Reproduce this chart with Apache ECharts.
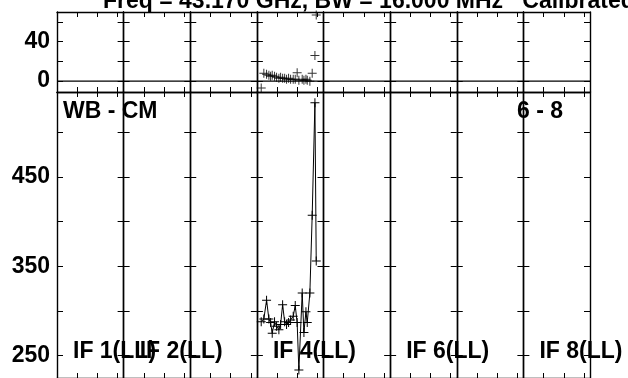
<!DOCTYPE html>
<html><head><meta charset="utf-8">
<script src="https://cdn.jsdelivr.net/npm/echarts@6/dist/echarts.min.js"></script>
<style>html,body{margin:0;padding:0;background:#fff}#c{width:628px;height:378px}</style>
</head><body><div id="c"></div>
<script>
// ---- data ----
const titleText = "Freq = 43.170 GHz, BW = 16.000 MHz   Calibrated with CL 1";
const panelText = "WB - CM";
const baselineText = "6 - 8";
const ifLabels = ["IF 1(LL)", "IF 2(LL)", "IF 4(LL)", "IF 6(LL)", "IF 8(LL)"];
const ifLabelIndex = [1, 2, 4, 6, 8];
const ifCount = 8;
const dataIF = 4;
const chanX = [4.3, 6.9, 9.6, 11.9, 13.6, 15.2, 17.5, 19.5, 21.8, 23.5, 25.5, 27.5, 29.4, 31.4, 33.4, 36.0, 38.0, 39.9, 41.6, 44.9, 46.6, 48.6, 49.9, 52.5, 54.8, 57.5, 58.8];
const ampValues = [288, 291, 312, 291, 287, 275, 288, 283, 279, 285, 307, 288, 285, 287, 290, 294, 306, 287, 234, 320, 276, 299, 287, 320, 407, 533, 356];
const phaseValues = [-7, 8, 7, 6, 5, 6, 5, 4, 3, 4, 3, 3, 2, 3, 2, 2, 2, 8.5, 1, 2, 1, 2, 1, 0, 8, 26, 67];
const topTicks = [0, 20, 40, 60];
const topTickLabels = [0, 40];
const bottomTicks = [250, 300, 350, 400, 450, 500];
const bottomTickLabels = [250, 350, 450];
const xTicks = [20, 40, 60];
const zeroLine = [[0, 0], [66, 0]];

// ---- layout ----
const L = 57, R = 590, W = (R - L) / ifCount;
const TOP_T = 12, TOP_H = 80, BOT_T = 92, BOT_H = 287;
const FONT = '"Liberation Sans", Arial, sans-serif';
const PLUS = 'path://M0,4H9V5H0Z M4,0H5V9H4Z';

const chart = echarts.init(document.getElementById('c'), null, {renderer: 'canvas'});
const grid = [], xAxis = [], yAxis = [], series = [];
const lineStyle = {color: '#000', width: 1.4};
const tickStyle = {color: '#000', width: 1};

function addAxes(gi, ymin, ymax, ticks, labels, showLabels) {
  ['bottom', 'top'].forEach(pos => xAxis.push({
    gridIndex: gi, type: 'value', position: pos, min: 0, max: 66,
    axisLine: {show: true, onZero: false, lineStyle},
    axisTick: {show: true, inside: true, length: 5, customValues: xTicks, lineStyle: tickStyle},
    axisLabel: {show: false}, splitLine: {show: false}
  }));
  ['left', 'right'].forEach((pos, k) => yAxis.push({
    gridIndex: gi, type: 'value', position: pos, min: ymin, max: ymax,
    axisLine: {show: true, onZero: false, lineStyle},
    axisTick: {show: true, inside: true, length: 6, customValues: ticks, lineStyle: tickStyle},
    axisLabel: {show: showLabels && k === 0, customValues: labels, margin: 7,
      color: '#000', fontFamily: FONT, fontWeight: 'bold', fontSize: 23},
    splitLine: {show: false}
  }));
}

for (let i = 0; i < ifCount; i++) {
  const left = L + i * W;
  const gt = grid.length;
  grid.push({left: left, top: TOP_T, width: W, height: TOP_H});
  addAxes(gt, -11, 70, topTicks, topTickLabels, i === 0);
  series.push({type: 'line', xAxisIndex: gt * 2, yAxisIndex: gt * 2, data: zeroLine,
    symbol: 'none', lineStyle: {color: '#000', width: 1.2}, silent: true, animation: false});
  const gb = grid.length;
  grid.push({left: left, top: BOT_T, width: W, height: BOT_H});
  addAxes(gb, 225, 545, bottomTicks, bottomTickLabels, i === 0);
  if (i + 1 === dataIF) {
    series.push({type: 'scatter', xAxisIndex: gt * 2, yAxisIndex: gt * 2,
      data: chanX.map((x, k) => [x, phaseValues[k]]),
      symbol: PLUS, symbolSize: 9, itemStyle: {color: '#000'}, animation: false});
    series.push({type: 'line', xAxisIndex: gb * 2, yAxisIndex: gb * 2,
      data: chanX.map((x, k) => [x, ampValues[k]]),
      symbol: PLUS, symbolSize: 9, showSymbol: true, showAllSymbol: true,
      itemStyle: {color: '#000'}, lineStyle: {color: '#000', width: 1}, animation: false});
  }
}

const textStyle = (extra) => Object.assign({fill: '#000', font: 'bold 23px ' + FONT, textVerticalAlign: 'middle'}, extra);
const graphic = [
  {type: 'text', left: 103, top: -10, style: {text: titleText, fill: '#000', font: 'bold 23px ' + FONT}},
  {type: 'text', x: 63, y: 111.5, style: textStyle({text: panelText})},
  {type: 'text', x: 517, y: 112, style: textStyle({text: baselineText})}
];
ifLabels.forEach((t, k) => graphic.push({type: 'text', x: L + (ifLabelIndex[k] - 1) * W + 16, y: 351.5,
  style: textStyle({text: t})}));

chart.setOption({animation: false, backgroundColor: '#fff', grid, xAxis, yAxis, series, graphic});
</script></body></html>
